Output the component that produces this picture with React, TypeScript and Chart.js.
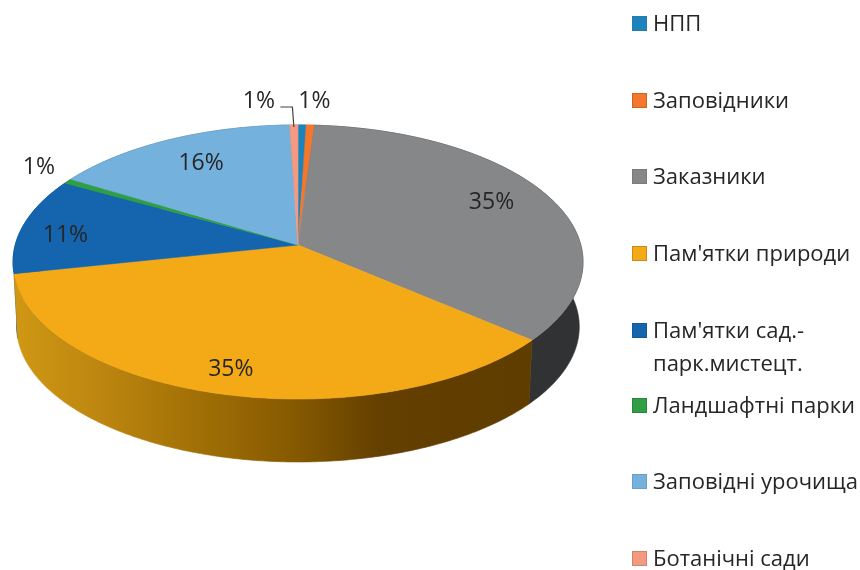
import React, { useEffect, useRef } from "react";
import { Chart, registerables } from "chart.js";

Chart.register(...registerables);

const categories = ["НПП", "Заповідники", "Заказники", "Пам'ятки природи", "Пам'ятки сад.-парк.мистецт.", "Ландшафтні парки", "Заповідні урочища", "Ботанічні сади"];
const legendLines = [["НПП"], ["Заповідники"], ["Заказники"], ["Пам'ятки природи"], ["Пам'ятки сад.-", "парк.мистецт."], ["Ландшафтні парки"], ["Заповідні урочища"], ["Ботанічні сади"]];
const values = [0.52, 0.52, 35.2, 35.45, 11.4, 0.6, 15.8, 0.52];
const topColors = ["#1b84bd", "#f4772b", "#858789", "#f4a916", "#1464ae", "#2f9e44", "#74b1dc", "#f49a80"];
const swatchBorders = ["#2a7aa8", "#c8662a", "#7a7a7a", "#c98c1a", "#155a96", "#2c8440", "#6a9fc6", "#cc8570"];
const wallColors = ["#0e4a6c", "#8a4216", "#303234", "#633f00", "#0c3f70", "#1a5a26", "#41647e", "#8a5748"];
const showLabel = [false, true, true, true, true, true, true, true];
const labelOffsets = [[0, 0], [4, -24], [-55, 8], [12, -24], [42, 10], [-29, -14], [32, 24], [-35, -24]];
const legendTops = [23, 100, 176, 253, 330, 405, 481, 558];

const CX = 298, CY = 245, BX = 282.8, BY = 134.9, K = 0.124;
const DEPTH = 65, BOTTOM_SCALE = 0.987;
const FONT = '"Open Sans", sans-serif';
const TEXT = "#262626";

function project(a: number, bottom: boolean) {
  const u = Math.cos(a), v = Math.sin(a), w = 1 - K * v;
  const s = bottom ? BOTTOM_SCALE : 1;
  return { x: CX + (s * BX * u) / w, y: CY + (s * BY * v) / w + (bottom ? DEPTH : 0) };
}

function ringPoints(start: number, end: number, bottom: boolean) {
  const n = Math.max(2, Math.ceil(Math.abs(end - start) / 0.01));
  const pts = [];
  for (let i = 0; i <= n; i++) pts.push(project(start + ((end - start) * i) / n, bottom));
  return pts;
}

function paint(ctx: CanvasRenderingContext2D, pts: { x: number; y: number }[], fill: any) {
  ctx.beginPath();
  pts.forEach((p, i) => (i ? ctx.lineTo(p.x, p.y) : ctx.moveTo(p.x, p.y)));
  ctx.closePath();
  ctx.fillStyle = fill;
  ctx.strokeStyle = fill;
  ctx.lineWidth = 0.6;
  ctx.fill();
  ctx.stroke();
}

const perspectivePie = {
  id: "perspectivePie",
  beforeDatasetsDraw(chart: any) {
    const ctx: CanvasRenderingContext2D = chart.ctx;
    const arcs = chart.getDatasetMeta(0).data;
    const total = values.reduce((a, b) => a + b, 0);
    const colors = chart.data.datasets[0].backgroundColor;

    const wallGrad = ctx.createLinearGradient(18, 0, 530, 0);
    wallGrad.addColorStop(0, "#cf9713");
    wallGrad.addColorStop(0.16, "#bd8610");
    wallGrad.addColorStop(0.355, "#a06f05");
    wallGrad.addColorStop(0.55, "#845800");
    wallGrad.addColorStop(0.71, "#633f00");
    wallGrad.addColorStop(1, "#5f3d00");

    const order = arcs.map((_: any, i: number) => i).sort((a: number, b: number) => {
      const mid = (i: number) => project((arcs[i].startAngle + arcs[i].endAngle) / 2, false).y;
      return mid(a) - mid(b);
    });
    order.forEach((i: number) => {
      const { startAngle, endAngle } = arcs[i];
      const top = ringPoints(startAngle, endAngle, false);
      const bot = ringPoints(startAngle, endAngle, true).reverse();
      paint(ctx, [...top, ...bot], i === 3 ? wallGrad : wallColors[i]);
    });
    arcs.forEach((arc: any, i: number) => {
      paint(ctx, [{ x: CX, y: CY }, ...ringPoints(arc.startAngle, arc.endAngle, false)], colors[i]);
    });

    ctx.font = `23px ${FONT}`;
    ctx.textAlign = "center";
    ctx.textBaseline = "middle";
    arcs.forEach((arc: any, i: number) => {
      if (!showLabel[i]) return;
      const p = project((arc.startAngle + arc.endAngle) / 2, false);
      ctx.fillStyle = TEXT;
      ctx.fillText(`${Math.round((values[i] / total) * 100)}%`, p.x + labelOffsets[i][0], p.y + labelOffsets[i][1]);
    });

    const last = arcs[arcs.length - 1];
    const edge = project((last.startAngle + last.endAngle) / 2, false);
    ctx.beginPath();
    ctx.moveTo(edge.x, edge.y + 2);
    ctx.lineTo(edge.x - 1.5, edge.y - 18);
    ctx.lineTo(edge.x - 13.5, edge.y - 18);
    ctx.strokeStyle = "#404040";
    ctx.lineWidth = 1.2;
    ctx.stroke();
    return false;
  },
};

export default function App() {
  const ref = useRef<HTMLCanvasElement | null>(null);
  useEffect(() => {
    document.body.style.margin = "0";
    document.body.style.background = "#ffffff";
    const chart = new Chart(ref.current as HTMLCanvasElement, {
      type: "pie",
      data: {
        labels: categories,
        datasets: [{ data: values, backgroundColor: topColors, borderWidth: 0 }],
      },
      options: {
        animation: false,
        responsive: false,
        events: [],
        plugins: { legend: { display: false }, tooltip: { enabled: false } },
      },
      plugins: [perspectivePie],
    } as any);
    return () => chart.destroy();
  }, []);

  return (
    <div style={{ position: "relative", width: 860, height: 570, overflow: "hidden", background: "#fff" }}>
      <canvas ref={ref} width={860} height={570} style={{ position: "absolute", left: 0, top: 0 }} />
      {legendLines.map((lines, i) => (
        <div key={i}>
          <div
            style={{
              position: "absolute",
              left: 632,
              top: legendTops[i] - 7,
              width: 13,
              height: 13,
              background: topColors[i],
              border: `1px solid ${swatchBorders[i]}`,
            }}
          />
          <div
            style={{
              position: "absolute",
              left: 653,
              top: legendTops[i] - 17,
              font: `22px/33px ${FONT}`,
              color: TEXT,
              whiteSpace: "nowrap",
            }}
          >
            {lines.map((l) => (
              <div key={l}>{l}</div>
            ))}
          </div>
        </div>
      ))}
    </div>
  );
}
